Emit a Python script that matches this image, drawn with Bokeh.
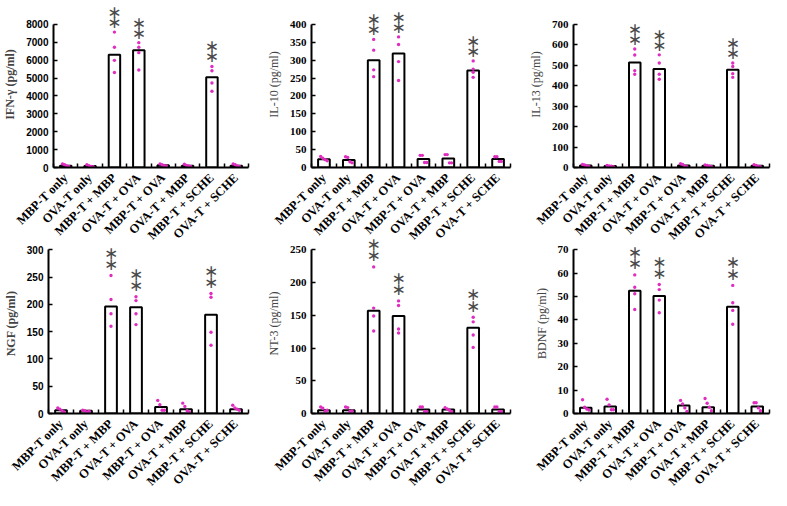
import math
from bokeh.plotting import figure
from bokeh.layouts import column, row
from bokeh.models import Range1d, FixedTicker
from bokeh.core.properties import value
from bokeh.embed import file_html
from bokeh.resources import INLINE

categories = ["MBP-T only", "OVA-T only", "MBP-T + MBP", "OVA-T + OVA",
              "MBP-T + OVA", "OVA-T + MBP", "MBP-T + SCHE", "OVA-T + SCHE"]
significant = [0, 0, 1, 1, 0, 0, 1, 0]

ifn_bars = [100, 80, 6300, 6550, 120, 100, 5050, 100]
ifn_dots = [[200, 150, 80, 60], [150, 100, 60, 40], [7570, 6720, 5990, 5310], [6980, 6720, 6420, 5450],
            [200, 150, 100, 80], [180, 120, 80, 60], [5650, 5410, 4720, 4260], [200, 150, 80, 60]]

il10_bars = [23, 21, 300, 319, 24, 25, 271, 24]
il10_dots = [[31, 26, 22, 19], [30, 28, 16, 13], [358, 328, 273, 254], [365, 344, 296, 243],
             [34, 34, 14, 14], [36, 36, 13, 13], [298, 275, 266, 252], [30, 30, 17, 17]]

il13_bars = [10, 7, 514, 482, 10, 8, 478, 8]
il13_dots = [[15, 12, 8, 5], [10, 8, 6, 4], [580, 550, 474, 456], [551, 511, 456, 432],
             [18, 15, 6, 4], [12, 10, 6, 5], [511, 494, 459, 441], [14, 10, 5, 4]]

ngf_bars = [6, 5, 196, 195, 12, 8, 181, 8]
ngf_dots = [[10, 8, 5, 3], [6, 5, 3, 4], [253, 209, 183, 160], [214, 207, 183, 163],
            [24, 16, 6, 6], [19, 13, 5, 3], [220, 213, 149, 125], [15, 10, 8, 6]]

nt3_bars = [5, 5, 157, 149, 6, 6, 131, 6]
nt3_dots = [[10, 8, 3, 5], [10, 9, 3, 4], [224, 161, 149, 126], [172, 165, 129, 123],
            [10, 10, 3, 3], [9, 7, 5, 3], [147, 140, 120, 101], [10, 10, 3, 3]]

bdnf_bars = [2.5, 3.0, 52.5, 50.3, 3.4, 2.7, 45.7, 3.0]
bdnf_dots = [[5.9, 2.7, 1.9, 1.5], [6.1, 3.7, 1.6, 1.6], [59.3, 54.0, 51.2, 44.5], [55.2, 53.0, 48.5, 43.1],
             [5.6, 4.1, 2.4, 0.9], [6.4, 4.4, 2.7, 1.2], [54.8, 47.4, 44.1, 38.2], [4.6, 4.6, 2.4, 1.2]]

panels = [
    ("IFN-\u03b3 (pg/ml)", ifn_bars, ifn_dots, 8000, 1000, True),
    ("IL-10 (pg/ml)", il10_bars, il10_dots, 400, 50, False),
    ("IL-13 (pg/ml)", il13_bars, il13_dots, 700, 100, False),
    ("NGF (pg/ml)", ngf_bars, ngf_dots, 300, 50, True),
    ("NT-3 (pg/ml)", nt3_bars, nt3_dots, 250, 50, False),
    ("BDNF (pg/ml)", bdnf_bars, bdnf_dots, 70, 10, False),
]

SERIF = "Liberation Serif"
SANS = "Liberation Sans"
DOT = "#e02cc0"
STAR = "#4a4a4a"
SPREAD = [-0.13, -0.045, 0.045, 0.13]

widths = [262, 260, 249]
lefts = [46, 49, 51]
rights = [14, 12, 2]
heights = [250, 264]
exts = [1.16, 1.1]
OVERLAP = 18
TAIL = 6


def make(idx, label, bars, dots, top, step, bold):
    col = idx % 3
    rw = idx // 3
    p = figure(width=widths[col], height=heights[rw], output_backend="svg", toolbar_location=None,
               x_range=Range1d(0.5, 8.5), y_range=Range1d(0, top * exts[rw]),
               min_border_left=lefts[col], min_border_right=rights[col],
               min_border_top=1, min_border_bottom=2)
    p.outline_line_color = None
    p.grid.grid_line_color = None
    if rw == 1:
        p.background_fill_alpha = 0
        p.border_fill_alpha = 0
        p.styles = {"margin-top": f"-{OVERLAP}px", "margin-bottom": f"-{TAIL}px"}

    xs = list(range(1, len(categories) + 1))
    p.vbar(x=xs, top=bars, width=0.47, bottom=0, fill_color="white",
           line_color="black", line_width=2)

    dx, dy = [], []
    sx, sy = [], []
    for i, grp in enumerate(dots):
        for j, v in enumerate(grp):
            off = 0.0 if significant[i] else SPREAD[j]
            dx.append(xs[i] + off)
            dy.append(v)
        if significant[i]:
            m = max(grp)
            sx += [xs[i], xs[i]]
            sy += [m + 0.07 * top, m + 0.14 * top]
    p.scatter(dx, dy, size=3.4, color=DOT, line_color=None)
    p.text(x=sx, y=sy, text=["\u2217"] * len(sx), text_font=value("DejaVu Sans"),
           text_font_size="17px", text_color=STAR, text_align="center",
           text_baseline="middle")

    ya = p.yaxis[0]
    ya.ticker = FixedTicker(ticks=list(range(0, top + 1, step)))
    ya.bounds = (0, top)
    ya.axis_line_width = 2
    ya.major_tick_line_width = 1.5
    ya.major_tick_in = 4
    ya.major_tick_out = 0
    ya.minor_tick_line_color = None
    ya.major_label_text_font = SANS if bold else SERIF
    ya.major_label_text_font_size = "10px" if bold else "11px"
    ya.major_label_text_font_style = "bold"
    ya.major_label_text_color = "black"
    ya.major_label_standoff = 5
    ya.axis_label = label
    ya.axis_label_text_font = SERIF
    ya.axis_label_text_font_size = "12px"
    ya.axis_label_text_font_style = "bold" if bold else "normal"
    ya.axis_label_standoff = 6

    xa = p.xaxis[0]
    xa.axis_label = None
    xa.ticker = FixedTicker(ticks=xs, minor_ticks=[x + 0.5 for x in range(0, 9)])
    xa.major_label_overrides = {x: c for x, c in zip(xs, categories)}
    xa.major_label_orientation = math.pi / 4
    xa.axis_line_width = 2
    xa.major_tick_in = 0
    xa.major_tick_out = 0
    xa.minor_tick_in = 4
    xa.minor_tick_out = 0
    xa.minor_tick_line_width = 1.5
    xa.major_label_text_font = SERIF
    xa.major_label_text_font_size = "12.5px"
    xa.major_label_text_font_style = "bold"
    xa.major_label_text_color = "black"
    xa.major_label_standoff = 8
    return p


figs = [make(i, *panels[i]) for i in range(6)]
layout = column(row(*figs[:3], spacing=0), row(*figs[3:], spacing=0), spacing=0)
open("out.html", "w").write(file_html(layout, INLINE))
